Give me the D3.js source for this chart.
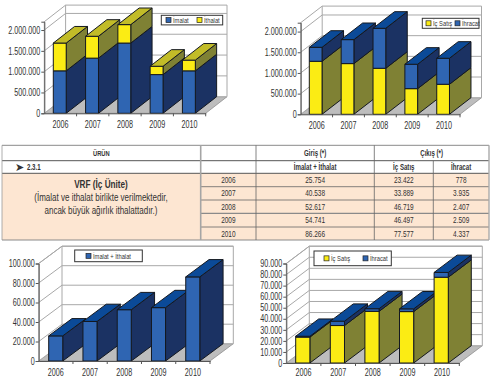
<!DOCTYPE html>
<html>
<head>
<meta charset="utf-8">
<script src="https://d3js.org/d3.v7.min.js"></script>
<style>
  html, body { margin: 0; padding: 0; background: #fff; }
  text { font-family: "Liberation Sans", sans-serif; fill: #333; }
  .axis path { stroke: #555; }
  .axis line { stroke: #555; }
</style>
</head>
<body>
<svg class="chart" width="500" height="378"></svg>
<script>
var years = ["2006", "2007", "2008", "2009", "2010"];

var imalat = [1020000, 1325000, 1687000, 930000, 1020000];
var ithalat = [667000, 525000, 443000, 200000, 257000];
var icSatisTop = [1282000, 1226000, 1113000, 620000, 726000];
var ihracatTop = [338000, 580000, 967000, 590000, 629000];

var giris = [25754, 40538, 52617, 54741, 86266];
var icSatis = [23422, 33889, 46719, 46497, 77577];
var ihracat = [778, 3935, 2407, 2509, 4337];

var milyonTicks = [0, 500000, 1000000, 1500000, 2000000];
var girisTicks = [0, 20000, 40000, 60000, 80000, 100000];
var cikisTicks = [0, 10000, 20000, 30000, 40000, 50000, 60000, 70000, 80000, 90000];

var colors = {
  blue: { front: "#2f65b2", side: "#1b3263", top: "#0b4a98" },
  yellow: { front: "#fbec14", side: "#7f8134", top: "#c2bc28" }
};

var svg = d3.select(".chart");
var fmt = d3.formatLocale({ decimal: ",", thousands: ".", grouping: [3], currency: ["", ""] }).format(",d");

// the reference uses a narrow face, so squeeze the real text to that width
function condense(sel, factor) {
  sel.each(function() {
    this.setAttribute("textLength", this.getComputedTextLength() * factor);
    this.setAttribute("lengthAdjust", "spacingAndGlyphs");
  });
}

function drawChart(opt) {
  var x = d3.scaleBand().domain(years).range([opt.left, opt.right]);
  var y = d3.scaleLinear().domain([0, opt.max]).range([opt.bottom, opt.top]);
  var dx = opt.dx, dy = opt.dy;
  var g = svg.append("g");

  // floor
  g.append("polygon")
    .attr("points", [[opt.left, opt.bottom], [opt.right, opt.bottom], [opt.right + dx, opt.bottom - dy], [opt.left + dx, opt.bottom - dy]].join(" "))
    .attr("fill", "#bdbdbd")
    .attr("stroke", "#8f8f8f")
    .attr("stroke-width", 0.8);

  // back wall and left wall
  g.append("path")
    .attr("d", "M" + opt.left + "," + opt.bottom + "V" + opt.top + "L" + (opt.left + dx) + "," + (opt.top - dy) +
      "H" + (opt.right + dx) + "V" + (opt.bottom - dy) + "H" + (opt.left + dx) + "Z" +
      "M" + (opt.left + dx) + "," + (opt.top - dy) + "V" + (opt.bottom - dy))
    .attr("fill", "#fff")
    .attr("stroke", "#a8a8a8")
    .attr("stroke-width", 1);

  // grid lines over the walls
  g.selectAll(".grid")
    .data(opt.ticks.filter(function(d) { return d > 0; }))
    .enter().append("polyline")
    .attr("class", "grid")
    .attr("points", function(d) {
      return [[opt.left, y(d)], [opt.left + dx, y(d) - dy], [opt.right + dx, y(d) - dy]].join(" ");
    })
    .attr("fill", "none")
    .attr("stroke", "#a8a8a8")
    .attr("stroke-width", 1);

  // stacked boxes, left to right so the next front hides the previous side
  var barW = x.bandwidth() * opt.barShare;
  years.forEach(function(year, i) {
    var bx = x(year) + opt.barShift;
    var base = 0;
    opt.series.forEach(function(s, k) {
      var v0 = base, v1 = base + s.values[i];
      base = v1;
      var c = colors[s.color];
      var box = g.append("g").attr("stroke", "#14181f").attr("stroke-width", 1).attr("stroke-linejoin", "round");
      box.append("polygon")
        .attr("points", [[bx + barW, y(v0)], [bx + barW + dx, y(v0) - dy], [bx + barW + dx, y(v1) - dy], [bx + barW, y(v1)]].join(" "))
        .attr("fill", c.side);
      box.append("rect")
        .attr("x", bx)
        .attr("y", y(v1))
        .attr("width", barW)
        .attr("height", y(v0) - y(v1))
        .attr("fill", c.front);
      if (k === opt.series.length - 1) {
        box.append("polygon")
          .attr("points", [[bx, y(v1)], [bx + barW, y(v1)], [bx + barW + dx, y(v1) - dy], [bx + dx, y(v1) - dy]].join(" "))
          .attr("fill", c.top);
      }
    });
  });

  var yAxis = d3.axisLeft(y).tickValues(opt.ticks).tickSize(3).tickPadding(1).tickFormat(fmt);
  var xAxis = d3.axisBottom(x).tickSize(0).tickPadding(opt.xPad || 8);

  g.append("g")
    .attr("class", "axis")
    .attr("transform", "translate(" + opt.left + ",0)")
    .call(yAxis)
    .selectAll("text")
    .attr("font-size", 10)
    .call(condense, 0.72);

  g.append("g")
    .attr("class", "axis")
    .attr("transform", "translate(0," + opt.bottom + ")")
    .call(xAxis)
    .selectAll("text")
    .attr("font-size", 10)
    .call(condense, 0.72);

  // small separators under the x axis between the categories
  g.selectAll(".sep")
    .data(years.slice(1).concat(["end"]))
    .enter().append("line")
    .attr("class", "sep")
    .attr("x1", function(d) { return d === "end" ? opt.right : x(d); })
    .attr("x2", function(d) { return d === "end" ? opt.right : x(d); })
    .attr("y1", opt.bottom)
    .attr("y2", opt.bottom + 3)
    .attr("stroke", "#555");

  // legend
  var l = opt.legend;
  var lg = g.append("g");
  lg.append("rect")
    .attr("x", l.x).attr("y", l.y).attr("width", l.w).attr("height", l.h)
    .attr("fill", "#fff").attr("stroke", "#333").attr("stroke-width", 1);
  l.items.forEach(function(item) {
    lg.append("rect")
      .attr("x", item.x).attr("y", l.y + l.h / 2 - 2.5).attr("width", 5).attr("height", 5)
      .attr("fill", colors[item.color].front).attr("stroke", "#222").attr("stroke-width", 0.7);
    lg.append("text")
      .attr("x", item.x + 7).attr("y", l.y + l.h / 2 + 3)
      .attr("font-size", 8)
      .text(item.label)
      .call(condense, 0.72);
  });
}

drawChart({
  left: 44.3, right: 205.7, bottom: 113.3, top: 21.7, max: 2200000, dx: 21.3, dy: 16.6,
  barShare: 0.4, barShift: 9, ticks: milyonTicks,
  series: [{ values: imalat, color: "blue" }, { values: ithalat, color: "yellow" }],
  legend: { x: 161.3, y: 15.3, w: 61.4, h: 9.6, items: [
    { x: 166, label: "İmalat", color: "blue" },
    { x: 197, label: "İthalat", color: "yellow" }
  ] }
});

drawChart({
  left: 300.7, right: 460, bottom: 114.3, top: 22.7, max: 2215000, dx: 21.5, dy: 16.6,
  barShare: 0.4, barShift: 8.6, ticks: milyonTicks,
  series: [{ values: icSatisTop, color: "yellow" }, { values: ihracatTop, color: "blue" }],
  legend: { x: 422.3, y: 18.3, w: 56.7, h: 10, items: [
    { x: 426, label: "İç Satış", color: "yellow" },
    { x: 455, label: "İhracat", color: "blue" }
  ] }
});

drawChart({
  left: 38.7, right: 210, bottom: 361, top: 263.5, max: 100000, dx: 23.3, dy: 17.3,
  barShare: 0.41, barShift: 10, ticks: girisTicks,
  series: [{ values: giris, color: "blue" }],
  legend: { x: 74.7, y: 250, w: 67.6, h: 11.7, items: [
    { x: 86, label: "İmalat + İthalat", color: "blue" }
  ] }
});

drawChart({
  left: 286.3, right: 459.3, bottom: 363, top: 263.5, max: 90000, dx: 23, dy: 17.3,
  barShare: 0.41, barShift: 9.4, ticks: cikisTicks, xPad: 5.5,
  series: [{ values: icSatis, color: "yellow" }, { values: ihracat, color: "blue" }],
  legend: { x: 314, y: 251, w: 77.3, h: 14.7, items: [
    { x: 324, label: "İç Satış", color: "yellow" },
    { x: 363, label: "İhracat", color: "blue" }
  ] }
});

// table between the charts
var colX = [2, 200.7, 256, 374.3, 433.3, 489];
var rowY = [145.3, 160.7, 173.3, 186.7, 200, 213.3, 227, 240];
var t = svg.append("g");

t.append("rect")
  .attr("x", colX[0]).attr("y", rowY[2])
  .attr("width", colX[5] - colX[0]).attr("height", rowY[7] - rowY[2])
  .attr("fill", "#fde6d2");

function tableText(x, y, str, size, weight, anchor, squeeze) {
  t.append("text")
    .attr("x", x).attr("y", y)
    .attr("font-size", size)
    .attr("font-weight", weight || "normal")
    .attr("text-anchor", anchor || "middle")
    .text(str)
    .call(condense, squeeze || 0.72);
}

function tableLine(x1, y1, x2, y2, color, w) {
  t.append("line")
    .attr("x1", x1).attr("y1", y1).attr("x2", x2).attr("y2", y2)
    .attr("stroke", color).attr("stroke-width", w);
}

// horizontal rules
[0, 1, 2, 7].forEach(function(r) {
  tableLine(colX[0], rowY[r], colX[5], rowY[r], r === 0 || r === 7 ? "#8a8a8a" : "#555", 1);
});
[3, 4, 5, 6].forEach(function(r) {
  tableLine(colX[1], rowY[r], colX[5], rowY[r], r === 5 ? "#8a8a8a" : "#666", r === 5 ? 1.2 : 0.8);
});
// vertical rules
tableLine(colX[1], rowY[0], colX[1], rowY[7], "#a5a5a5", 1.6);
tableLine(colX[2], rowY[0], colX[2], rowY[7], "#666", 0.8);
tableLine(colX[3], rowY[0], colX[3], rowY[7], "#666", 0.8);
tableLine(colX[4], rowY[1], colX[4], rowY[7], "#666", 0.8);
tableLine(colX[0], rowY[0], colX[0], rowY[7], "#999", 0.8);
tableLine(colX[5], rowY[0], colX[5], rowY[7], "#aaa", 1.4);

tableText((colX[0] + colX[1]) / 2, 156, "ÜRÜN", 8, "bold");
tableText((colX[2] + colX[3]) / 2, 156, "Giriş (*)", 8.5, "bold");
tableText((colX[3] + colX[5]) / 2, 156, "Çıkış (*)", 8.5, "bold");
tableText((colX[2] + colX[3]) / 2, 170, "İmalat  +  İthalat", 8.5, "bold");
tableText((colX[3] + colX[4]) / 2, 170, "İç Satış", 8.5, "bold");
tableText((colX[4] + colX[5]) / 2, 170, "İhracat", 8.5, "bold");
tableText(15, 171, "➤", 11, "normal", "start", 1);
tableText(27, 170, "2.3.1", 8.5, "bold", "start");
tableText(101, 188, "VRF (İç Ünite)", 10.5, "bold", "middle", 0.78);
tableText(101, 201, "(İmalat ve ithalat birlikte verilmektedir,", 10, "normal", "middle", 0.8);
tableText(101, 214, "ancak büyük ağırlık ithalattadır.)", 10, "normal", "middle", 0.8);

years.forEach(function(year, i) {
  var ty = (rowY[i + 2] + rowY[i + 3]) / 2 + 3;
  tableText((colX[1] + colX[2]) / 2, ty, year, 9);
  tableText((colX[2] + colX[3]) / 2, ty, fmt(giris[i]), 9);
  tableText((colX[3] + colX[4]) / 2, ty, fmt(icSatis[i]), 9);
  tableText((colX[4] + colX[5]) / 2, ty, fmt(ihracat[i]), 9);
});
</script>
</body>
</html>
